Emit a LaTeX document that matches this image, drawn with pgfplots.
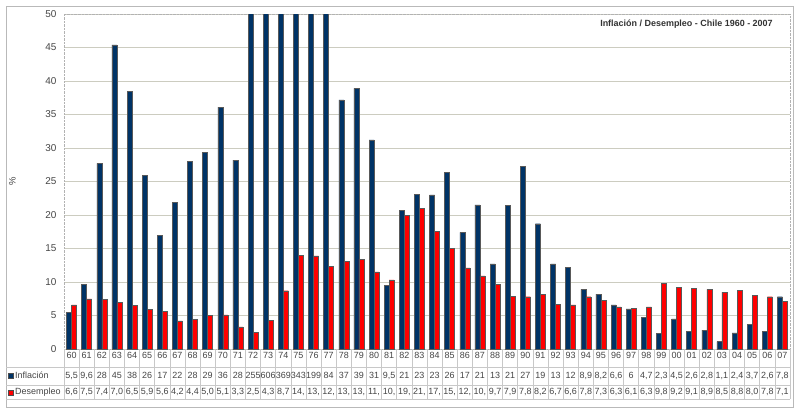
\documentclass[border=0pt]{standalone}
\usepackage{fontspec}
\setmainfont{Liberation Sans}
\usepackage{pgfplots}
\usepackage{pgfplotstable}
\pgfplotsset{compat=1.18}
\definecolor{infl}{RGB}{0,51,102}
\definecolor{des}{RGB}{255,0,0}
\definecolor{gridc}{RGB}{204,204,192}
\definecolor{tabc}{RGB}{200,200,200}
\definecolor{txt}{RGB}{70,70,70}

\pgfplotstableread{
x inf des
0 5.5 6.6
1 9.6 7.5
2 27.7 7.4
3 45.4 7.0
4 38.5 6.5
5 25.9 5.9
6 17.0 5.6
7 21.9 4.2
8 28.0 4.4
9 29.3 5.0
10 36.1 5.1
11 28.2 3.3
12 255 2.5
13 606 4.3
14 369 8.7
15 343 14.0
16 199 13.9
17 84 12.3
18 37.2 13.1
19 38.9 13.4
20 31.2 11.5
21 9.5 10.3
22 20.7 19.9
23 23.1 21.0
24 23.0 17.6
25 26.4 15.0
26 17.4 12.1
27 21.5 10.9
28 12.7 9.7
29 21.4 7.9
30 27.3 7.8
31 18.7 8.2
32 12.7 6.7
33 12.2 6.6
34 8.9 7.8
35 8.2 7.3
36 6.6 6.3
37 6.0 6.1
38 4.7 6.3
39 2.3 9.8
40 4.5 9.2
41 2.6 9.1
42 2.8 8.9
43 1.1 8.5
44 2.4 8.8
45 3.7 8.0
46 2.6 7.8
47 7.8 7.1
}\datatable

\begin{document}
\begin{tikzpicture}[x=1bp,y=1bp]
\useasboundingbox (0,0) rectangle (800,414);
\fill[white] (0,0) rectangle (800,414);
\draw[gray!55, line width=0.9bp] (6,7) rectangle (793,408);
\begin{axis}[
  at={(64bp,65bp)}, anchor=south west, scale only axis,
  width=726bp, height=335bp,
  xmin=-0.5, xmax=47.5, ymin=0, ymax=50,
  ybar=0pt, bar width=5bp,
  ytick={0,5,...,50},
  ymajorgrids, grid style={gridc, line width=0.8bp},
  xtick={0,...,47},
  xticklabels={60,61,62,63,64,65,66,67,68,69,70,71,72,73,74,75,76,77,78,79,80,81,82,83,84,85,86,87,88,89,90,91,92,93,94,95,96,97,98,99,00,01,02,03,04,05,06,07},
  major tick length=0pt,
  axis line style={gray!60, densely dotted},
  /pgf/number format/assume math mode=true,
  yticklabel style={font=\fontsize{10}{12}\selectfont, text=txt, xshift=-4bp},
  xticklabel style={font=\fontsize{9}{11}\selectfont, text=txt},
  ylabel={\%},
  ylabel style={at={(axis description cs:-0.071,0.5)}, anchor=center, font=\fontsize{9.5}{11}\selectfont, text=txt},
  title={Inflación / Desempleo - Chile 1960 - 2007},
  title style={at={(axis description cs:0.981,0.952)}, anchor=east, font=\bfseries\fontsize{9}{11}\selectfont, text=black!80},
]
\addplot[fill=infl, draw=black!65, line width=0.4bp] table[x=x, y=inf]{\datatable};
\addplot[fill=des, draw=black!65, line width=0.4bp] table[x=x, y=des]{\datatable};
\end{axis}
% data table under the chart
\foreach \k in {0,...,48} \draw[tabc, line width=0.6bp] ({64+15.125*\k},65) -- ({64+15.125*\k},15);
\foreach \yy in {47,29,15} \draw[tabc, line width=0.6bp] (6,\yy) -- (790,\yy);
\draw[black!70, fill=infl, line width=0.4bp] (8,36) rectangle (13,41);
\draw[black!70, fill=des, line width=0.4bp] (8,19) rectangle (13,24);
\node[anchor=west, font=\fontsize{9}{11}\selectfont, text=txt, inner sep=0pt] at (15,38.3) {Inflación};
\node[anchor=west, font=\fontsize{9}{11}\selectfont, text=txt, inner sep=0pt] at (15,21.7) {Desempleo};
\foreach \k/\v in {0/{5,5},1/{9,6},2/28,3/45,4/38,5/26,6/17,7/22,8/28,9/29,10/36,11/28,12/255,13/606,14/369,15/343,16/199,17/84,18/37,19/39,20/31,21/{9,5},22/21,23/23,24/23,25/26,26/17,27/21,28/13,29/21,30/27,31/19,32/13,33/12,34/{8,9},35/{8,2},36/{6,6},37/6,38/{4,7},39/{2,3},40/{4,5},41/{2,6},42/{2,8},43/{1,1},44/{2,4},45/{3,7},46/{2,6},47/{7,8}}
  \node[font=\fontsize{9}{11}\selectfont, text=txt, inner sep=0pt] at ({64+15.125*(\k+0.5)},38.3) {\v};
\foreach \k/\v in {0/{6,6},1/{7,5},2/{7,4},3/{7,0},4/{6,5},5/{5,9},6/{5,6},7/{4,2},8/{4,4},9/{5,0},10/{5,1},11/{3,3},12/{2,5},13/{4,3},14/{8,7},15/{14,},16/{13,},17/{12,},18/{13,},19/{13,},20/{11,},21/{10,},22/{19,},23/{21,},24/{17,},25/{15,},26/{12,},27/{10,},28/{9,7},29/{7,9},30/{7,8},31/{8,2},32/{6,7},33/{6,6},34/{7,8},35/{7,3},36/{6,3},37/{6,1},38/{6,3},39/{9,8},40/{9,2},41/{9,1},42/{8,9},43/{8,5},44/{8,8},45/{8,0},46/{7,8},47/{7,1}}
  \node[font=\fontsize{9}{11}\selectfont, text=txt, inner sep=0pt] at ({64+15.125*(\k+0.5)},21.7) {\v};
\end{tikzpicture}
\end{document}
